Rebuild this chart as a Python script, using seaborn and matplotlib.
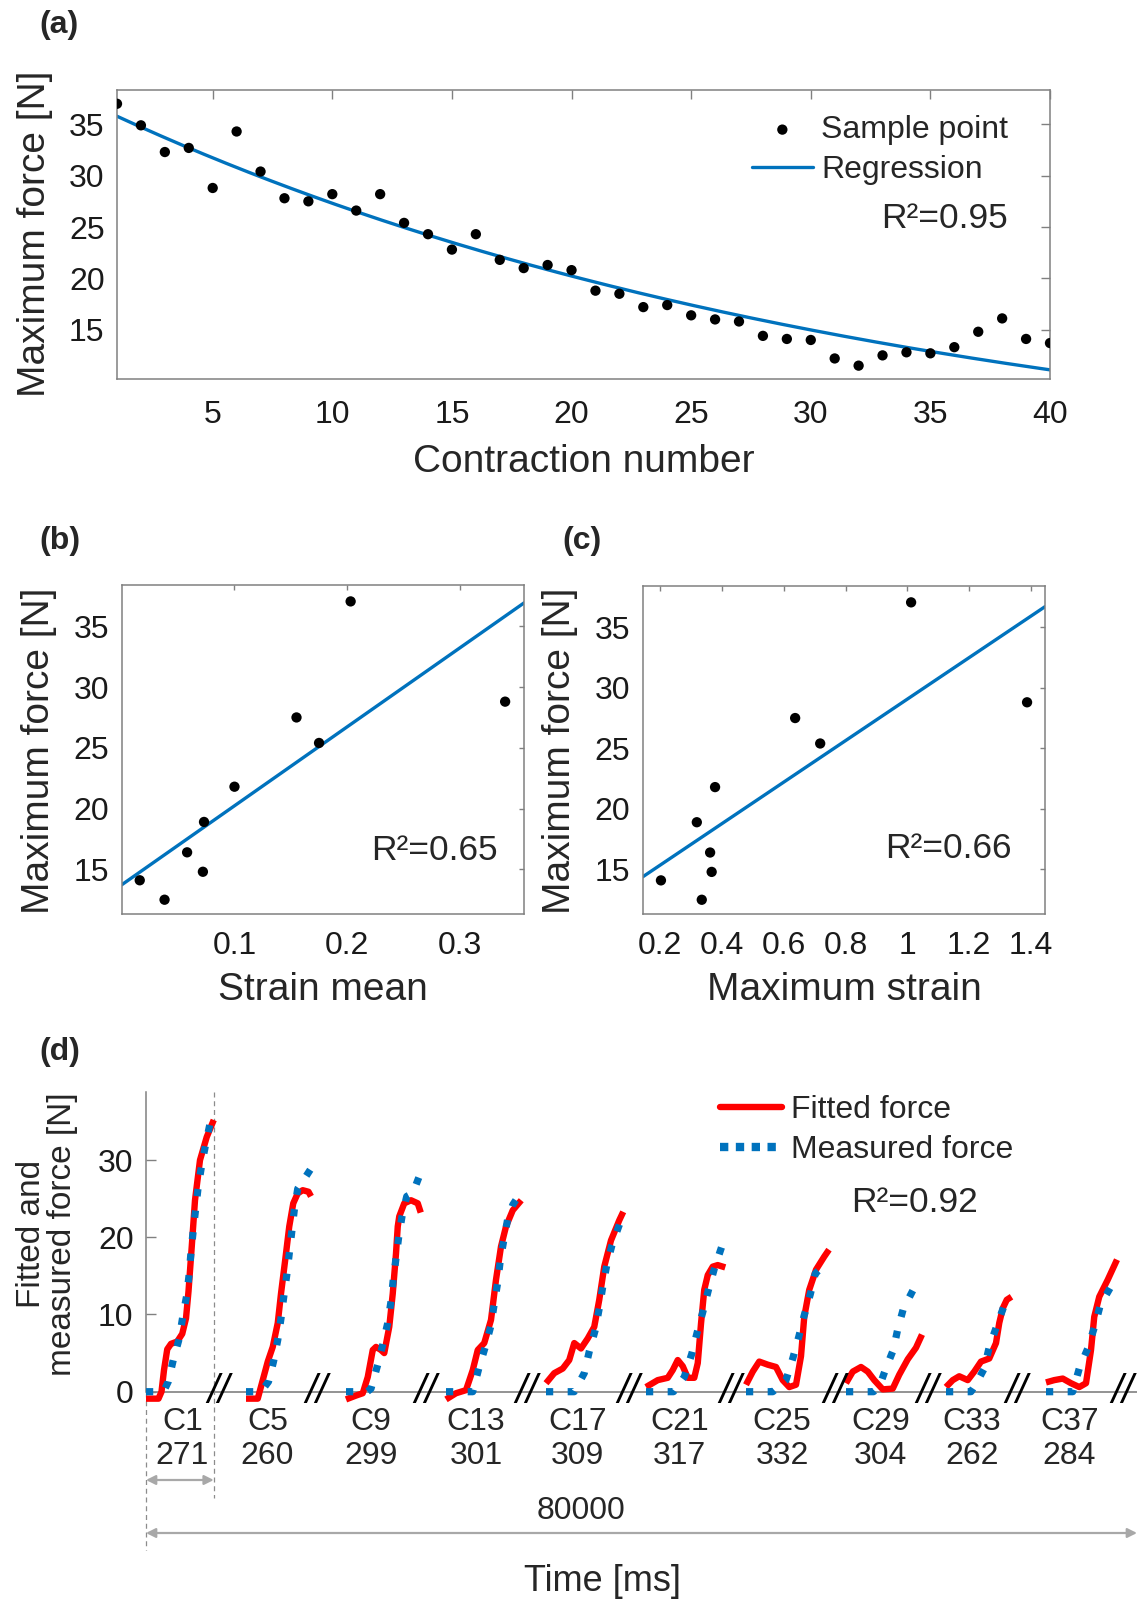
import numpy as np
import matplotlib
matplotlib.use("Agg")
import matplotlib.pyplot as plt
import seaborn as sns
from matplotlib.lines import Line2D

# ---------------- data: panel (a) ----------------
contraction_number = list(range(1, 41))
max_force = [37.0, 34.9, 32.3, 32.7, 28.8, 34.3, 30.4, 27.8, 27.5, 28.2,
             26.6, 28.2, 25.4, 24.3, 22.8, 24.3, 21.8, 21.0, 21.3, 20.8,
             18.8, 18.5, 17.2, 17.4, 16.4, 16.0, 15.8, 14.4, 14.1, 14.0,
             12.2, 11.5, 12.5, 12.8, 12.7, 13.3, 14.8, 16.1, 14.1, 13.7]
r2_a = "R²=0.95"

# ---------------- data: panels (b) and (c) ----------------
strain_mean = [0.016, 0.038, 0.058, 0.072, 0.073, 0.100, 0.155, 0.175, 0.203, 0.340]
max_strain = [0.203, 0.335, 0.362, 0.367, 0.319, 0.378, 0.637, 0.718, 1.012, 1.387]
force_sel = [14.1, 12.5, 16.4, 14.8, 18.9, 21.8, 27.5, 25.4, 37.05, 28.8]
r2_b = "R²=0.65"
r2_c = "R²=0.66"

# ---------------- data: panel (d) ----------------
contr_labels = ["C1", "C5", "C9", "C13", "C17", "C21", "C25", "C29", "C33", "C37"]
contr_durations = [271, 260, 299, 301, 309, 317, 332, 304, 262, 284]

c1_fit_t = [0, 50, 62, 72, 85, 100, 125, 145, 160, 170, 183, 196, 216, 243, 271]
c1_fit_f = [-0.9, -0.9, 0.0, 2.8, 5.5, 6.2, 6.5, 7.5, 9.5, 13.0, 18.8, 24.8, 30.0, 33.0, 35.2]
c1_meas_t = [0, 70, 89, 109, 133, 147, 163, 173, 180, 189, 199, 209, 223, 240, 260]
c1_meas_f = [0, 0, 1.3, 4.1, 6.9, 9.7, 12.5, 15.3, 18.1, 20.9, 23.8, 26.6, 29.4, 32.3, 35.3]

c5_fit_t = [0, 47, 67, 87, 107, 127, 140, 160, 173, 189, 207, 227, 250, 260]
c5_fit_f = [-0.9, -0.9, 1.5, 3.9, 5.8, 8.9, 12.7, 17.9, 21.4, 24.4, 25.7, 26.1, 25.9, 25.3]
c5_meas_t = [0, 60, 90, 110, 127, 140, 151, 163, 173, 183, 193, 207, 230, 258]
c5_meas_f = [0, 0, 1.3, 3.9, 6.7, 9.5, 12.3, 15.1, 17.9, 20.7, 23.5, 26.3, 27.4, 28.8]

c9_fit_t = [0, 40, 67, 87, 107, 120, 140, 153, 173, 187, 200, 207, 213, 233, 260, 287, 299]
c9_fit_f = [-1.0, -0.5, -0.2, 1.9, 5.4, 5.8, 5.4, 5.0, 8.4, 12.7, 17.9, 21.4, 22.7, 24.4, 24.8, 24.4, 23.2]
c9_meas_t = [0, 85, 100, 127, 147, 167, 180, 189, 200, 211, 224, 243, 267, 293]
c9_meas_f = [0, 0, 0.4, 3.5, 6.1, 8.9, 11.7, 14.5, 17.3, 20.1, 22.7, 25.3, 25.7, 27.9]

c13_fit_t = [0, 40, 80, 107, 127, 153, 180, 200, 220, 240, 267, 301]
c13_fit_f = [-1.0, -0.2, 0.2, 2.8, 5.4, 6.3, 9.3, 14.5, 18.8, 21.4, 23.5, 24.8]
c13_meas_t = [0, 107, 131, 157, 180, 193, 207, 217, 231, 247, 267, 295]
c13_meas_f = [0, 0, 3.0, 5.8, 8.6, 11.4, 14.2, 17.0, 19.6, 22.4, 24.2, 25.6]

c17_fit_t = [0, 33, 67, 93, 113, 140, 167, 193, 213, 233, 260, 293, 309]
c17_fit_f = [1.1, 2.4, 3.0, 4.1, 6.3, 5.6, 6.9, 8.4, 11.9, 16.2, 19.6, 22.2, 23.3]
c17_meas_t = [0, 113, 153, 173, 197, 213, 227, 243, 264, 293, 305]
c17_meas_f = [0, 0, 2.4, 5.2, 8.0, 10.8, 13.6, 16.4, 19.0, 21.6, 22.8]

c21_fit_t = [0, 47, 87, 107, 127, 147, 167, 193, 207, 220, 233, 247, 267, 287, 317]
c21_fit_f = [0.6, 1.5, 1.8, 2.8, 4.1, 3.3, 1.8, 1.8, 3.7, 8.8, 13.2, 15.1, 16.2, 16.4, 16.1]
c21_meas_t = [0, 110, 153, 183, 204, 227, 249, 273, 303]
c21_meas_f = [0, 0, 1.9, 4.9, 7.6, 10.3, 13.1, 15.9, 18.8]

c25_fit_t = [0, 27, 53, 87, 120, 147, 173, 200, 220, 233, 253, 280, 313, 332]
c25_fit_f = [0.9, 2.6, 3.9, 3.5, 3.2, 1.5, 0.6, 0.9, 4.6, 9.7, 13.2, 15.8, 17.5, 18.4]
c25_meas_t = [0, 107, 160, 187, 211, 233, 257, 277, 310]
c25_meas_f = [0, 0, 1.5, 4.3, 7.1, 9.9, 12.6, 15.3, 16.3]

c29_fit_t = [0, 27, 60, 87, 113, 147, 187, 213, 247, 280, 304]
c29_fit_f = [1.1, 2.6, 3.2, 2.6, 1.5, 0.3, 0.4, 2.2, 4.2, 5.7, 7.4]
c29_meas_t = [0, 110, 135, 157, 189, 207, 229, 272]
c29_meas_f = [0, 0, 0.8, 2.8, 5.4, 8.1, 10.7, 13.4]

c33_fit_t = [0, 27, 53, 87, 113, 140, 173, 200, 213, 227, 243, 262]
c33_fit_f = [0.6, 1.5, 2.0, 1.5, 2.6, 3.9, 4.3, 6.3, 8.9, 10.8, 11.9, 12.3]
c33_meas_t = [0, 100, 120, 153, 173, 204, 233, 250]
c33_meas_f = [0, 0, 1.0, 3.0, 5.8, 8.6, 11.2, 12.0]

c37_fit_t = [0, 33, 67, 100, 133, 160, 180, 193, 213, 247, 284]
c37_fit_f = [1.2, 1.5, 1.7, 1.1, 0.6, 1.1, 5.4, 9.7, 12.3, 14.5, 17.1]
c37_meas_t = [0, 107, 133, 167, 196, 217, 263]
c37_meas_f = [0, 0, 3.0, 5.6, 8.6, 11.2, 13.8]

fit_t = [c1_fit_t, c5_fit_t, c9_fit_t, c13_fit_t, c17_fit_t,
         c21_fit_t, c25_fit_t, c29_fit_t, c33_fit_t, c37_fit_t]
fit_f = [c1_fit_f, c5_fit_f, c9_fit_f, c13_fit_f, c17_fit_f,
         c21_fit_f, c25_fit_f, c29_fit_f, c33_fit_f, c37_fit_f]
meas_t = [c1_meas_t, c5_meas_t, c9_meas_t, c13_meas_t, c17_meas_t,
          c21_meas_t, c25_meas_t, c29_meas_t, c33_meas_t, c37_meas_t]
meas_f = [c1_meas_f, c5_meas_f, c9_meas_f, c13_meas_f, c17_meas_f,
          c21_meas_f, c25_meas_f, c29_meas_f, c33_meas_f, c37_meas_f]
total_time_label = "80000"
r2_d = "R²=0.92"

# ---------------- style ----------------
sns.set_theme(style="white")
plt.rcParams["font.family"] = ["Liberation Sans", "DejaVu Sans"]
plt.rcParams["axes.edgecolor"] = "#808080"
plt.rcParams["axes.linewidth"] = 1.1

BLUE = "#0072BD"
RED = "#FF0000"
GRAY = "#808080"
TICK_FS = 23
LAB_FS = 28
LEG_FS = 23
R2_FS = 25.5
DOT_S = 55

W, H = 1144, 1602
fig = plt.figure(figsize=(W / 100, H / 100), dpi=100)


def rect(l, t, r, b):
    return [l / W, 1 - b / H, (r - l) / W, (b - t) / H]


def box_axes(ax, ticklen):
    for s in ax.spines.values():
        s.set_visible(True)
        s.set_color(GRAY)
        s.set_linewidth(1.1)
    ax.tick_params(direction="in", top=True, right=True, length=ticklen,
                   width=1.0, color=GRAY, labelsize=TICK_FS, labelcolor="#1a1a1a")


def place_labels(ax, px, xl, yl, xc, yc):
    l, t, r, b = px
    ax.set_xlabel(xl, fontsize=LAB_FS)
    ax.set_ylabel(yl, fontsize=LAB_FS)
    ax.xaxis.set_label_coords((xc[0] - l) / (r - l), (b - xc[1]) / (b - t))
    ax.xaxis.label.set_va("center")
    ax.yaxis.set_label_coords((yc[0] - l) / (r - l), (b - yc[1]) / (b - t))
    ax.yaxis.label.set_va("center")


def exp_fit(x, y, iters=50):
    """Least-squares fit of y = a*exp(b*x) (Gauss-Newton, log-linear start)."""
    x = np.asarray(x, float)
    y = np.asarray(y, float)
    b, loga = np.polyfit(x, np.log(y), 1)
    a = np.exp(loga)
    for _ in range(iters):
        e = np.exp(b * x)
        r = y - a * e
        J = np.column_stack([e, a * x * e])
        step, *_ = np.linalg.lstsq(J, r, rcond=None)
        a += step[0]
        b += step[1]
    return a, b


# ---------------- panel (a) ----------------
pa = (117, 90, 1050, 379)
axA = fig.add_axes(rect(*pa))
sns.scatterplot(x=contraction_number, y=max_force, ax=axA, color="black", s=DOT_S,
                edgecolor="none", label="Sample point", zorder=3)
ea, eb = exp_fit(contraction_number, max_force)
xs = np.linspace(1, 40, 300)
sns.lineplot(x=xs, y=ea * np.exp(eb * xs), ax=axA, color=BLUE, lw=2.4,
             label="Regression", zorder=2)
axA.set_xlim(1, 40)
axA.set_ylim(10.2, 38.34)
axA.set_xticks([5, 10, 15, 20, 25, 30, 35, 40])
axA.set_yticks([15, 20, 25, 30, 35])
box_axes(axA, 6.5)
axA.tick_params(axis="x", pad=15)
axA.tick_params(axis="y", pad=9)
place_labels(axA, pa, "Contraction number", "Maximum force [N]", (584, 462), (35, 234))
axA.legend(loc="upper left", bbox_to_anchor=(752 / W, 1 - 115 / H),
           bbox_transform=fig.transFigure, frameon=False, fontsize=LEG_FS,
           handlelength=1.9, handletextpad=0.26, labelspacing=0.32,
           borderpad=0, borderaxespad=0, markerscale=1.0)
axA.text((1008 - pa[0]) / (pa[2] - pa[0]), (pa[3] - 218) / (pa[3] - pa[1]), r2_a,
         transform=axA.transAxes, ha="right", va="center", fontsize=R2_FS)

# ---------------- panel (b) ----------------
pb = (121.7, 585, 524.3, 914.3)
axB = fig.add_axes(rect(*pb))
sns.scatterplot(x=strain_mean, y=force_sel, ax=axB, color="black", s=DOT_S,
                edgecolor="none", zorder=3)
xlb = (0.0, 0.357)
cb = np.polyfit(strain_mean, force_sel, 1)
sns.lineplot(x=list(xlb), y=list(np.polyval(cb, xlb)), ax=axB, color=BLUE, lw=2.4, zorder=2)
axB.set_xlim(*xlb)
axB.set_ylim(11.3, 38.4)
axB.set_xticks([0.1, 0.2, 0.3])
axB.set_xticklabels(["0.1", "0.2", "0.3"])
axB.set_yticks([15, 20, 25, 30, 35])
box_axes(axB, 3.5)
axB.tick_params(axis="x", pad=12)
axB.tick_params(axis="y", pad=9)
place_labels(axB, pb, "Strain mean", "Maximum force [N]", (323, 990), (39, 751))
axB.text((498 - pb[0]) / (pb[2] - pb[0]), (pb[3] - 850) / (pb[3] - pb[1]), r2_b,
         transform=axB.transAxes, ha="right", va="center", fontsize=R2_FS)

# ---------------- panel (c) ----------------
pc = (642.7, 586, 1045, 914.3)
axC = fig.add_axes(rect(*pc))
sns.scatterplot(x=max_strain, y=force_sel, ax=axC, color="black", s=DOT_S,
                edgecolor="none", zorder=3)
xlc = (0.144, 1.445)
cc = np.polyfit(max_strain, force_sel, 1)
sns.lineplot(x=list(xlc), y=list(np.polyval(cc, xlc)), ax=axC, color=BLUE, lw=2.4, zorder=2)
axC.set_xlim(*xlc)
axC.set_ylim(11.3, 38.4)
axC.set_xticks([0.2, 0.4, 0.6, 0.8, 1.0, 1.2, 1.4])
axC.set_xticklabels(["0.2", "0.4", "0.6", "0.8", "1", "1.2", "1.4"])
axC.set_yticks([15, 20, 25, 30, 35])
box_axes(axC, 3.5)
axC.tick_params(axis="x", pad=12)
axC.tick_params(axis="y", pad=9)
place_labels(axC, pc, "Maximum strain", "Maximum force [N]", (844, 990), (560, 751))
axC.text((1012 - pc[0]) / (pc[2] - pc[0]), (pc[3] - 849) / (pc[3] - pc[1]), r2_c,
         transform=axC.transAxes, ha="right", va="center", fontsize=R2_FS)

# ---------------- panel (d) ----------------
pdx = (146, 1091.7, 1137, 1560)
axD = fig.add_axes(rect(*pdx))
slot_ms = 400
gap_ms = 20
x_end = (pdx[2] - pdx[0]) * 4.0
y_top = 38.86
y_bot = -(pdx[3] - 1391.7) / 7.72
axD.set_xlim(0, x_end)
axD.set_ylim(y_bot, y_top)
for s in ["top", "right", "bottom"]:
    axD.spines[s].set_visible(False)
axD.spines["left"].set_color(GRAY)
axD.spines["left"].set_linewidth(1.1)
axD.spines["left"].set_bounds(0, y_top)
axD.set_xticks([])
axD.set_yticks([0, 10, 20, 30])
axD.tick_params(axis="y", direction="in", length=7, width=1.0, color=GRAY,
                labelsize=TICK_FS, labelcolor="#1a1a1a", pad=9, left=True)
axD.axhline(0, color=GRAY, lw=1.2, zorder=1)

prev_break = 0
for k in range(len(contr_labels)):
    off = k * slot_ms
    sns.lineplot(x=np.array(fit_t[k]) + off, y=fit_f[k], ax=axD, color=RED, lw=4.6,
                 sort=False, estimator=None, zorder=3, solid_joinstyle="round",
                 solid_capstyle="butt")
    sns.lineplot(x=np.array(meas_t[k]) + off, y=meas_f[k], ax=axD, color=BLUE, lw=5.2,
                 sort=False, estimator=None, zorder=4, linestyle=(0, (1, 2.0)),
                 dash_capstyle="butt")
    brk = off + contr_durations[k] + gap_ms
    axD.text(brk, 0, "//", ha="center", va="center", fontsize=29, color="black",
             zorder=5, fontstyle="italic")
    mid = (prev_break + brk) / 2
    axD.text(mid, -(1422 - 1391.7) / 7.72, contr_labels[k], ha="center", va="center",
             fontsize=TICK_FS, clip_on=False)
    axD.text(mid, -(1456 - 1391.7) / 7.72, str(contr_durations[k]), ha="center",
             va="center", fontsize=TICK_FS, clip_on=False)
    prev_break = brk

# guide lines and arrows
dash_kw = dict(color="#8c8c8c", lw=0.9, ls=(0, (4, 3)), clip_on=False, zorder=2)
axD.plot([0, 0], [0, -(1550 - 1391.7) / 7.72], **dash_kw)
axD.plot([contr_durations[0]] * 2, [38.8, -(1498 - 1391.7) / 7.72], **dash_kw)
arr_kw = dict(arrowstyle="<|-|>", color="#a8a8a8", lw=1.6, shrinkA=0, shrinkB=0,
              mutation_scale=14)
y_short = -(1480 - 1391.7) / 7.72
axD.annotate("", xy=(0, y_short), xytext=(contr_durations[0], y_short),
             arrowprops=arr_kw, annotation_clip=False)
y_long = -(1533 - 1391.7) / 7.72
axD.annotate("", xy=(0, y_long), xytext=(x_end, y_long),
             arrowprops=arr_kw, annotation_clip=False)
axD.text((581 - 146) * 4, -(1511 - 1391.7) / 7.72, total_time_label, ha="center",
         va="center", fontsize=TICK_FS, clip_on=False)
axD.text((603 - 146) * 4, -(1581 - 1391.7) / 7.72, "Time [ms]", ha="center",
         va="center", fontsize=26, clip_on=False)
fig.text(47 / W, 1 - 1234 / H, "Fitted and\nmeasured force [N]", rotation=90,
         ha="center", va="center", fontsize=24, linespacing=0.98, multialignment="center")

leg_handles = [Line2D([], [], color=RED, lw=4.6),
               Line2D([], [], color=BLUE, lw=6.0, ls=(0, (1, 0.9)), dash_capstyle="butt")]
axD.legend(leg_handles, ["Fitted force", "Measured force"], loc="upper left",
           bbox_to_anchor=(720 / W, 1 - 1095 / H), bbox_transform=fig.transFigure,
           frameon=False, fontsize=LEG_FS, handlelength=1.95, handletextpad=0.27,
           labelspacing=0.32, borderpad=0, borderaxespad=0)
axD.text((978 - 146) * 4, (1391.7 - 1203) / 7.72, r2_d, ha="right", va="center",
         fontsize=R2_FS)

# ---------------- panel letters ----------------
for lab, x, y in [("(a)", 39, 25), ("(b)", 39, 541), ("(c)", 562, 541), ("(d)", 39, 1052)]:
    fig.text(x / W, 1 - y / H, lab, fontsize=23, fontweight="bold", ha="left", va="center")

fig.savefig("out.png", dpi=100, facecolor="white")
